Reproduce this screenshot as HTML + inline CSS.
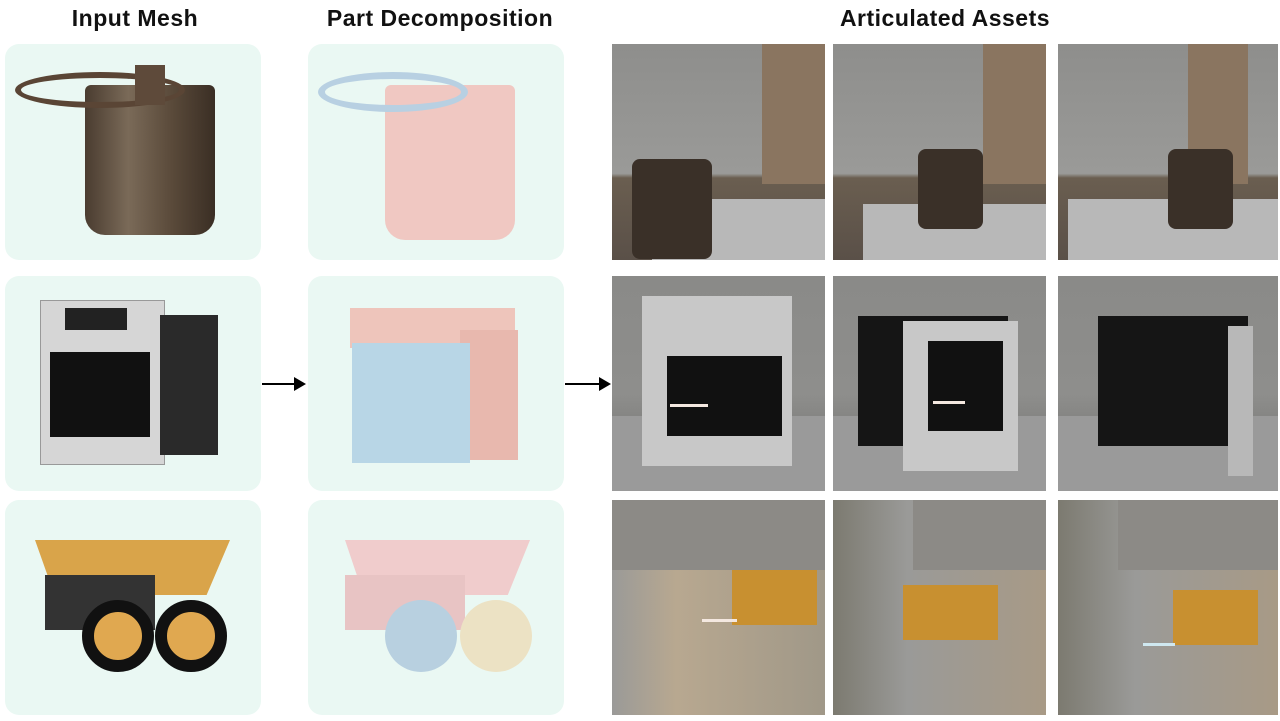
<!DOCTYPE html>
<html><head><meta charset="utf-8"><style>
*{margin:0;padding:0;box-sizing:border-box}
body{width:1280px;height:721px;background:#fff;position:relative;overflow:hidden;font-family:"Liberation Sans",sans-serif}
.h{position:absolute;top:5px;font-size:23px;color:#111;text-align:center;font-weight:bold;letter-spacing:.5px}
.p{position:absolute;background:#eaf8f3;border-radius:14px}
.ph{position:absolute;overflow:hidden}
.a{position:absolute}
.arr{position:absolute;height:2px;background:#000}
.arr:after{content:"";position:absolute;right:-2px;top:-6px;border-left:12px solid #000;border-top:7px solid transparent;border-bottom:7px solid transparent}
.w{position:absolute;height:3px;background:#f4e8e0}
</style></head><body>
<div class="h" style="left:30px;width:210px">Input Mesh</div>
<div class="h" style="left:305px;width:270px">Part Decomposition</div>
<div class="h" style="left:780px;width:330px">Articulated Assets</div>

<div class="p" style="left:5px;top:44px;width:256px;height:216px"></div>
<div class="p" style="left:5px;top:276px;width:256px;height:215px"></div>
<div class="p" style="left:5px;top:500px;width:256px;height:215px"></div>
<div class="a" style="left:85px;top:85px;width:130px;height:150px;background:linear-gradient(90deg,#4a3c30,#7a6a58,#5a4a3a,#3a2e24);border-radius:6px 6px 20px 20px"></div>
<div class="a" style="left:15px;top:72px;width:170px;height:36px;border:6px solid #5a4535;border-radius:50%"></div>
<div class="a" style="left:135px;top:65px;width:30px;height:40px;background:#5e4a3a"></div>
<div class="a" style="left:40px;top:300px;width:125px;height:165px;background:#d6d6d6;border:1px solid #999"></div>
<div class="a" style="left:160px;top:315px;width:58px;height:140px;background:#2a2a2a"></div>
<div class="a" style="left:50px;top:352px;width:100px;height:85px;background:#111"></div>
<div class="a" style="left:65px;top:308px;width:62px;height:22px;background:#222"></div>
<div class="a" style="left:35px;top:540px;width:195px;height:55px;background:#d9a44a;clip-path:polygon(0 0,100% 0,88% 100%,10% 100%)"></div>
<div class="a" style="left:45px;top:575px;width:110px;height:55px;background:#333"></div>
<div class="a" style="left:82px;top:600px;width:72px;height:72px;border-radius:50%;background:#e0a850;border:12px solid #111"></div>
<div class="a" style="left:155px;top:600px;width:72px;height:72px;border-radius:50%;background:#e0a850;border:12px solid #111"></div>

<div class="p" style="left:308px;top:44px;width:256px;height:216px"></div>
<div class="p" style="left:308px;top:276px;width:256px;height:215px"></div>
<div class="p" style="left:308px;top:500px;width:256px;height:215px"></div>
<div class="a" style="left:385px;top:85px;width:130px;height:155px;background:#f0c8c2;border-radius:6px 6px 20px 20px"></div>
<div class="a" style="left:318px;top:72px;width:150px;height:40px;border:7px solid #b8d0e2;border-radius:50%"></div>
<div class="a" style="left:350px;top:308px;width:165px;height:40px;background:#eec5bb"></div>
<div class="a" style="left:460px;top:330px;width:58px;height:130px;background:#e8b8ae"></div>
<div class="a" style="left:352px;top:343px;width:118px;height:120px;background:#b8d6e6"></div>
<div class="a" style="left:345px;top:540px;width:185px;height:55px;background:#f0cccc;clip-path:polygon(0 0,100% 0,88% 100%,10% 100%)"></div>
<div class="a" style="left:345px;top:575px;width:120px;height:55px;background:#e8c4c4"></div>
<div class="a" style="left:385px;top:600px;width:72px;height:72px;border-radius:50%;background:#b8d0e0"></div>
<div class="a" style="left:460px;top:600px;width:72px;height:72px;border-radius:50%;background:#ece2c4"></div>

<div class="arr" style="left:262px;top:383px;width:42px"></div>
<div class="arr" style="left:565px;top:383px;width:44px"></div>

<div class="ph" style="left:612px;top:44px;width:213px;height:216px;background:linear-gradient(#8e8e8c 0,#9a9a98 60%,#6a5e50 62%,#5a5048 100%)">
 <div class="a" style="left:150px;top:0;width:63px;height:140px;background:#8a7560"></div>
 <div class="a" style="left:40px;top:155px;width:175px;height:65px;background:#b8b8b8"></div>
 <div class="a" style="left:20px;top:115px;width:80px;height:100px;background:#3a3028;border-radius:8px"></div></div>
<div class="ph" style="left:833px;top:44px;width:213px;height:216px;background:linear-gradient(#8e8e8c 0,#9a9a98 60%,#6a5e50 62%,#5a5048 100%)">
 <div class="a" style="left:150px;top:0;width:63px;height:140px;background:#8a7560"></div>
 <div class="a" style="left:30px;top:160px;width:185px;height:60px;background:#b8b8b8"></div>
 <div class="a" style="left:85px;top:105px;width:65px;height:80px;background:#3a3028;border-radius:8px"></div></div>
<div class="ph" style="left:1058px;top:44px;width:220px;height:216px;background:linear-gradient(#8e8e8c 0,#9a9a98 60%,#6a5e50 62%,#5a5048 100%)">
 <div class="a" style="left:130px;top:0;width:60px;height:140px;background:#8a7560"></div>
 <div class="a" style="left:10px;top:155px;width:210px;height:65px;background:#b8b8b8"></div>
 <div class="a" style="left:110px;top:105px;width:65px;height:80px;background:#3a3028;border-radius:8px"></div></div>

<div class="ph" style="left:612px;top:276px;width:213px;height:215px;background:linear-gradient(#8a8a88 0,#8e8e8c 55%,#6a6a68 100%)">
 <div class="a" style="left:0;top:140px;width:213px;height:75px;background:#9a9a9a"></div>
 <div class="a" style="left:30px;top:20px;width:150px;height:170px;background:#c8c8c8"></div>
 <div class="a" style="left:55px;top:80px;width:115px;height:80px;background:#111"></div>
 <div class="w" style="left:58px;top:128px;width:38px"></div></div>
<div class="ph" style="left:833px;top:276px;width:213px;height:215px;background:linear-gradient(#8a8a88 0,#8e8e8c 55%,#6a6a68 100%)">
 <div class="a" style="left:0;top:140px;width:213px;height:75px;background:#9a9a9a"></div>
 <div class="a" style="left:25px;top:40px;width:150px;height:130px;background:#151515"></div>
 <div class="a" style="left:70px;top:45px;width:115px;height:150px;background:#c8c8c8"></div>
 <div class="a" style="left:95px;top:65px;width:75px;height:90px;background:#111"></div>
 <div class="w" style="left:100px;top:125px;width:32px"></div></div>
<div class="ph" style="left:1058px;top:276px;width:220px;height:215px;background:linear-gradient(#8a8a88 0,#8e8e8c 55%,#6a6a68 100%)">
 <div class="a" style="left:0;top:140px;width:220px;height:75px;background:#9a9a9a"></div>
 <div class="a" style="left:40px;top:40px;width:150px;height:130px;background:#151515"></div>
 <div class="a" style="left:170px;top:50px;width:25px;height:150px;background:#b8b8b8"></div></div>

<div class="ph" style="left:612px;top:500px;width:213px;height:215px;background:linear-gradient(90deg,#9a9a98 0,#b8a890 30%,#a09888 100%)">
 <div class="a" style="left:0;top:0;width:213px;height:70px;background:#8c8a86"></div>
 <div class="a" style="left:120px;top:70px;width:85px;height:55px;background:#c89030"></div>
 <div class="w" style="left:90px;top:119px;width:35px"></div></div>
<div class="ph" style="left:833px;top:500px;width:213px;height:215px;background:linear-gradient(90deg,#7c7a70 0,#9a9a98 35%,#a89a86 100%)">
 <div class="a" style="left:80px;top:0;width:133px;height:70px;background:#8c8a86"></div>
 <div class="a" style="left:70px;top:85px;width:95px;height:55px;background:#c89030"></div></div>
<div class="ph" style="left:1058px;top:500px;width:220px;height:215px;background:linear-gradient(90deg,#7c7a70 0,#9a9a98 35%,#a89a86 100%)">
 <div class="a" style="left:60px;top:0;width:160px;height:70px;background:#8c8a86"></div>
 <div class="a" style="left:115px;top:90px;width:85px;height:55px;background:#c89030"></div>
 <div class="w" style="left:85px;top:143px;width:32px;background:#cfe8f0"></div></div>
</body></html>
